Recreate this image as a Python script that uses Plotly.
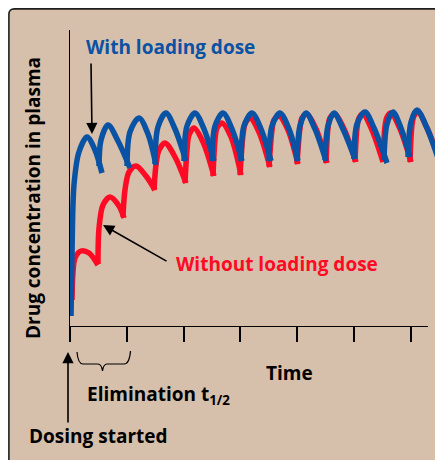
import plotly.graph_objects as go

# time in units of 1/10 elimination half-life, concentration in arbitrary units
tick_vals = [0, 10, 20, 30, 40, 50, 60]

with_loading_t = [
    [0.18, 0.35, 0.70, 1.58, 2.99, 4.40, 5.63],
    [5.11, 5.46, 6.69, 8.45, 10.56],
    [10.04, 10.56, 12.15, 13.73, 15.14],
    [14.96, 15.49, 16.90, 18.49, 20.42],
    [20.07, 20.60, 22.01, 23.59, 25.35],
    [25.00, 25.53, 26.94, 28.52, 30.28],
    [30.11, 30.63, 32.04, 33.63, 35.39],
    [35.04, 35.56, 36.97, 38.56, 40.14],
    [39.96, 40.49, 41.55, 43.13, 45.07],
    [44.89, 45.42, 46.48, 48.06, 50.18],
    [50.00, 50.53, 51.94, 53.52, 55.81],
    [55.28, 55.81, 56.87, 58.27, 59.86],
    [59.51, 60.04, 61.09, 62.85, 64.79],
]
with_loading_c = [
    [5, 35.5, 70.5, 87, 94.5, 88, 76.5],
    [80, 93, 100.5, 92.5, 79],
    [80, 97, 104, 96, 80.5],
    [81, 99.5, 106.5, 98.5, 82.5],
    [82.5, 100, 106.5, 98.5, 82.5],
    [82.5, 100, 106.5, 98.5, 82.5],
    [82.5, 100, 106.5, 98.5, 82.5],
    [82.5, 100, 106.5, 98.5, 82.5],
    [82.5, 100, 106.5, 98.5, 82.5],
    [83, 100, 106.5, 98.5, 83.5],
    [83.5, 101, 107, 99, 81.5],
    [83, 101, 107, 99, 84.5],
    [84.5, 102, 108, 99, 84],
]

without_loading_t = [
    [0.35, 0.53, 0.88, 1.94, 3.35, 4.93],
    [4.93, 5.11, 5.81, 7.04, 8.63, 9.51],
    [9.33, 9.68, 10.39, 11.62, 13.38, 14.96],
    [14.79, 15.14, 15.67, 16.73, 18.49, 20.42],
    [20.25, 20.60, 20.95, 21.83, 23.42, 25.35],
    [25.18, 25.53, 25.88, 26.76, 28.35, 30.11],
    [29.93, 30.46, 30.81, 31.69, 33.27, 35.21],
    [35.04, 35.56, 35.92, 36.80, 38.38, 40.14],
    [39.96, 40.49, 40.85, 41.73, 43.31, 45.25],
    [45.07, 45.42, 45.77, 46.65, 48.24, 50.35],
    [50.18, 50.53, 50.88, 51.58, 53.17, 55.11],
    [55.11, 55.46, 55.81, 56.51, 58.10, 60.04],
    [59.86, 60.21, 60.56, 61.27, 62.85, 65.14],
]
without_loading_c = [
    [13, 27, 34, 37.5, 36.5, 30.5],
    [31, 49, 60.5, 64.5, 60, 54],
    [54.5, 68, 77, 80, 75, 68],
    [68, 80.5, 88, 91.5, 84.5, 71.5],
    [71.5, 88, 95.5, 99, 92, 75],
    [75, 93, 99, 101.5, 94.5, 75.5],
    [75.5, 95.5, 101, 104, 97, 79.5],
    [79.5, 98, 103, 105, 98, 81],
    [81, 99, 104, 106, 98.5, 81.5],
    [81.5, 99, 104, 106, 98.5, 82],
    [82, 99, 104, 106, 98, 82],
    [82, 100, 104.5, 106.5, 98.5, 82],
    [82, 100.5, 105, 107, 99, 82.5],
]

BLUE = "#0a52a3"
RED = "#ff0a24"
BG = "#d6bfab"
FONT = "Open Sans"
FS = 19

# the page body has an 8px margin, so the figure sits at (8, 8) in the window
OFF = 8
W, H = 435, 452
L, R, T, B = 62, 0, 22, 134


def join(segs):
    out = []
    for s in segs:
        out += list(s) + [None]
    return out


# window pixel -> paper helpers for layout placement
def px(x):
    return (x - OFF - L) / (W - L - R)


def py(y):
    return (H - B - (y - OFF)) / (H - B - T)


fig = go.Figure()

fig.add_trace(go.Scatter(
    x=join(without_loading_t), y=join(without_loading_c),
    mode="lines", line=dict(color=RED, width=5.5, shape="spline", smoothing=0.9),
    connectgaps=False, showlegend=False, hoverinfo="skip",
))
fig.add_trace(go.Scatter(
    x=join(with_loading_t), y=join(with_loading_c),
    mode="lines", line=dict(color=BLUE, width=5.5, shape="spline", smoothing=0.9),
    connectgaps=False, showlegend=False, hoverinfo="skip",
))
# empty trace so the time axis (shorter than the drawing area) gets drawn
fig.add_trace(go.Scatter(x=[], y=[], xaxis="x2", yaxis="y", showlegend=False,
                         hoverinfo="skip"))

brace = "M{0},{1} Q{2},{3} {4},{3} L{5},{3} Q{6},{3} {7},{8} Q{9},{3} {10},{3} L{11},{3} Q{12},{3} {13},{14}".format(
    px(77), py(352), px(78), py(364), px(83), px(98), px(101.5), px(102.5), py(371),
    px(103.5), px(107), px(124), px(129.5), px(130.5), py(351))

frame = "M{0},{1} L{0},{2} Q{0},{3} {4},{3} L{5},{3} L{5},{1} Z".format(
    px(8.9), py(475), py(14.5), py(8.9), px(14.5), px(460))

fig.update_layout(
    width=W, height=H,
    margin=dict(l=L, r=R, t=T, b=B, pad=0),
    paper_bgcolor="white",
    plot_bgcolor="rgba(0,0,0,0)",
    font=dict(family=FONT, size=FS, color="black"),
    xaxis=dict(range=[0, (W - L - R) / 5.68], visible=False, fixedrange=True),
    xaxis2=dict(
        domain=[0, (428 - OFF - L) / (W - L - R)], anchor="y",
        range=[0, (428 - OFF - L) / 5.68],
        tickvals=tick_vals, ticks="outside", ticklen=15, tickwidth=1.6, tickcolor="black",
        showticklabels=False, showgrid=False, zeroline=False,
        showline=True, linecolor="black", linewidth=1.4,
    ),
    yaxis=dict(
        range=[0, 148], showticklabels=False, ticks="", showgrid=False, zeroline=False,
        showline=True, linecolor="black", linewidth=1.4,
    ),
    shapes=[
        dict(type="path", xref="paper", yref="paper", path=frame,
             fillcolor=BG, line=dict(color="#1e1e1e", width=1.6), layer="below"),
        dict(type="path", xref="paper", yref="paper", path=brace,
             line=dict(color="black", width=1.2)),
    ],
    annotations=[
        dict(text="With loading dose", xref="paper", yref="paper", x=px(170), y=py(47),
             xanchor="center", yanchor="middle", showarrow=False,
             font=dict(color=BLUE, size=FS, weight="bold")),
        dict(text="", xref="paper", yref="paper", x=px(92), y=py(134), ax=-1, ay=-72,
             showarrow=True, arrowhead=2, arrowsize=1.4, arrowwidth=1.6, arrowcolor="black"),
        dict(text="Without loading dose", xref="paper", yref="paper", x=px(277), y=py(264),
             xanchor="center", yanchor="middle", showarrow=False,
             font=dict(color=RED, size=FS, weight="bold")),
        dict(text="", xref="paper", yref="paper", x=px(103), y=py(225), ax=65, ay=37,
             showarrow=True, arrowhead=2, arrowsize=1.4, arrowwidth=1.6, arrowcolor="black"),
        dict(text="Drug concentration in plasma", xref="paper", yref="paper",
             x=px(33), y=py(198), textangle=-90, xanchor="center", yanchor="middle",
             showarrow=False, font=dict(size=FS, weight="bold")),
        dict(text="Time", xref="paper", yref="paper", x=px(289), y=py(373),
             xanchor="center", yanchor="middle", showarrow=False,
             font=dict(size=FS, weight="bold")),
        dict(text="Elimination t<sub>1/2</sub>", xref="paper", yref="paper",
             x=px(85), y=py(395), xanchor="left", yanchor="middle", showarrow=False,
             font=dict(size=FS, weight="bold")),
        dict(text="", xref="paper", yref="paper", x=px(68), y=py(352), ax=0, ay=72,
             showarrow=True, arrowhead=2, arrowsize=1.4, arrowwidth=1.6, arrowcolor="black"),
        dict(text="Dosing started", xref="paper", yref="paper", x=px(27), y=py(436),
             xanchor="left", yanchor="middle", showarrow=False,
             font=dict(size=FS, weight="bold")),
    ],
)

fig.write_html("out.html")
